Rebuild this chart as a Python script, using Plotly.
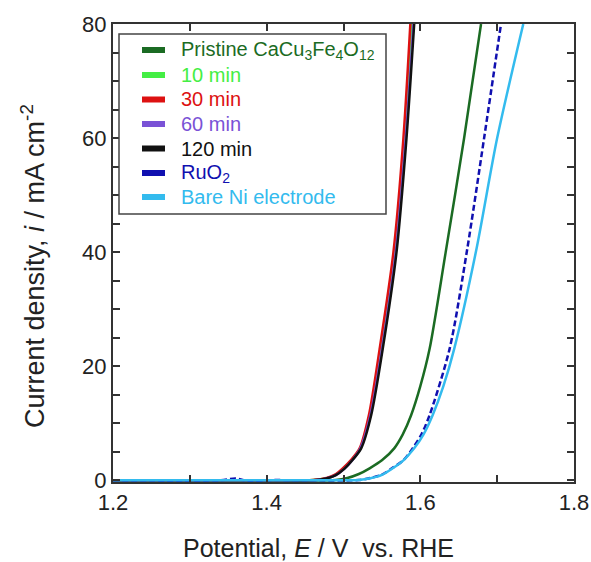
import plotly.graph_objects as go

# ---------------- data ----------------
E_pristine = [1.20, 1.40, 1.49, 1.505, 1.52, 1.534, 1.55, 1.566, 1.577, 1.588, 1.60, 1.612, 1.633, 1.657, 1.679]
i_pristine = [0, 0, 0.05, 0.4, 1.1, 2.1, 3.5, 5.6, 8.0, 11.4, 16.5, 23, 40, 60, 80]

E_10 = [1.20, 1.40, 1.46, 1.48, 1.49, 1.50, 1.511, 1.522, 1.534, 1.549, 1.567, 1.580, 1.589]
i_10 = [0, 0, 0.05, 0.4, 1.0, 2.1, 3.6, 5.6, 11.4, 23, 40, 60, 80]

E_30 = [1.20, 1.40, 1.46, 1.478, 1.489, 1.499, 1.510, 1.521, 1.533, 1.547, 1.565, 1.578, 1.587]
i_30 = [0, 0, 0.05, 0.4, 1.0, 2.1, 3.6, 5.6, 11.4, 23, 40, 60, 80]

E_60 = [1.20, 1.40, 1.465, 1.48, 1.49, 1.501, 1.512, 1.522, 1.535, 1.550, 1.568, 1.581, 1.591]
i_60 = [0, 0, 0.05, 0.4, 0.9, 2.0, 3.6, 5.6, 11.4, 23, 40, 60, 80]

E_120 = [1.20, 1.40, 1.465, 1.48, 1.49, 1.501, 1.512, 1.523, 1.536, 1.551, 1.569, 1.582, 1.592]
i_120 = [0, 0, 0.05, 0.4, 0.9, 2.0, 3.6, 5.6, 11.4, 23, 40, 60, 80]

E_ruo2 = [1.20, 1.34, 1.36, 1.38, 1.40, 1.45, 1.52, 1.535, 1.55, 1.563, 1.578, 1.590, 1.602, 1.612, 1.638, 1.661, 1.683, 1.705]
i_ruo2 = [0, 0, 0.3, -0.3, 0, 0, 0.05, 0.4, 1.0, 2.1, 3.5, 5.6, 8.2, 11.4, 23, 40.5, 60, 80]

E_ni = [1.20, 1.45, 1.52, 1.535, 1.55, 1.564, 1.578, 1.592, 1.604, 1.616, 1.63, 1.644, 1.673, 1.700, 1.734]
i_ni = [0, 0, 0.05, 0.35, 0.95, 2.1, 3.5, 5.6, 8.0, 11.4, 16.5, 23, 40.5, 60, 80]

names = ["Pristine CaCu<sub>3</sub>Fe<sub>4</sub>O<sub>12</sub>", "10 min", "30 min", "60 min",
         "120 min", "RuO<sub>2</sub>", "Bare Ni electrode"]
colors = ["#1b6b23", "#44ee44", "#dd1111", "#7a52d6", "#111111", "#1010b0", "#33bbee"]
series_E = [E_pristine, E_10, E_30, E_60, E_120, E_ruo2, E_ni]
series_i = [i_pristine, i_10, i_30, i_60, i_120, i_ruo2, i_ni]

x_ticks = [1.2, 1.4, 1.6, 1.8]
y_ticks = [0, 20, 40, 60, 80]

FONT = "Liberation Sans, Arial, sans-serif"
W, H = 591, 562

fig = go.Figure()
for name, c, E, cur in zip(names, colors, series_E, series_i):
    dash = "6px,3px" if name.startswith("RuO") else "solid"
    fig.add_trace(go.Scatter(x=E, y=cur, mode="lines", showlegend=False, name=name,
                             line=dict(color=c, width=2.5, shape="spline", smoothing=0.8, dash=dash)))

# ---------------- hand-built legend (paper coordinates) ----------------
PL, PR, PT, PB = 113, 574, 24, 482   # plot area in page pixels
def px(x):
    return (x - PL) / (PR - PL)
def py(y):
    return (PB - y) / (PB - PT)

shapes = [dict(type="rect", xref="paper", yref="paper",
               x0=px(119), x1=px(386), y0=py(214), y1=py(34),
               line=dict(color="#444444", width=1.5), fillcolor="white", layer="above")]
annotations = []
row_y = [50, 75, 99.5, 124, 148.5, 173, 197]
for name, c, ry in zip(names, colors, row_y):
    shapes.append(dict(type="line", xref="paper", yref="paper",
                       x0=px(142), x1=px(165), y0=py(ry), y1=py(ry),
                       line=dict(color=c, width=6), layer="above"))
    annotations.append(dict(text=name, xref="paper", yref="paper", x=px(179), y=py(ry),
                            xanchor="left", yanchor="middle", showarrow=False,
                            font=dict(family=FONT, size=20, color=c)))

annotations += [
    dict(text="Current density, <i>i</i> / mA cm<sup>-2</sup>", textangle=-90,
         xref="paper", yref="paper", x=px(33), y=py(266), xanchor="center", yanchor="middle",
         showarrow=False, font=dict(family=FONT, size=27, color="#222222")),
    dict(text="Potential, <i>E</i> / V  vs. RHE",
         xref="paper", yref="paper", x=px(318), y=py(548), xanchor="center", yanchor="middle",
         showarrow=False, font=dict(family=FONT, size=25, color="#222222")),
]

axis_common = dict(showline=True, linecolor="#333333", linewidth=2, mirror="ticks",
                   ticks="inside", ticklen=7, tickwidth=1.5, tickcolor="#333333",
                   showgrid=False, zeroline=False, automargin=False,
                   tickfont=dict(family=FONT, size=22, color="#222222"))

fig.update_layout(
    width=W, height=H,
    margin=dict(l=PL, r=W - PR, t=PT, b=H - PB, autoexpand=False),
    paper_bgcolor="white", plot_bgcolor="white",
    font=dict(family=FONT, color="#222222"),
    showlegend=False,
    xaxis=dict(range=[1.2, 1.8], tickvals=x_ticks, ticktext=[f"{v:.1f}" for v in x_ticks],
               minor=dict(dtick=0.1, ticks="inside", ticklen=7, tickwidth=1.5, tickcolor="#333333"),
               **axis_common),
    yaxis=dict(range=[-0.3, 80], tickvals=y_ticks,
               minor=dict(dtick=5, ticks="inside", ticklen=7, tickwidth=1.5, tickcolor="#333333"),
               **axis_common),
    shapes=shapes,
    annotations=annotations,
)

# remove the browser's default body margin so the figure fills the window exactly
fig.write_html("out.html", config={"displayModeBar": False},
               post_script="document.body.style.margin='0';document.body.style.overflow='hidden';")
